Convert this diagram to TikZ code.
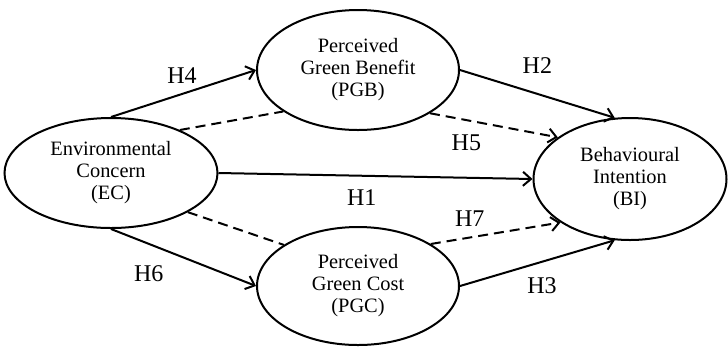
\documentclass[tikz,border=0pt]{standalone}
\usepackage{fontspec}
\setmainfont{Liberation Serif}
\usetikzlibrary{shapes.geometric,arrows.meta}

\begin{document}
\begin{tikzpicture}[x=0.5pt, y=-0.5pt, line width=1pt,
        construct/.style = {draw, ellipse, inner sep=0pt, align=center,
            font=\fontsize{10.2}{11}\selectfont},
        path/.style = {-{Straight Barb[length=4pt,width=7pt]}},
        link/.style = {dash pattern=on 5pt off 3pt},
        lbl/.style = {inner sep=1pt, font=\fontsize{12}{14}\selectfont}]
        \useasboundingbox (0,0) rectangle (728,350);

        \node[construct, minimum width=106.5pt, minimum height=55pt] (EC) at (111,173) {Environmental\\Concern\\(EC)};
        \node[construct, minimum width=101pt, minimum height=60pt] (PGB) at (358,70) {Perceived\\Green Benefit\\(PGB)};
        \node[construct, minimum width=101pt, minimum height=59pt] (PGC) at (358,286) {Perceived\\Green Cost\\(PGC)};
        \node[construct, minimum width=96.5pt, minimum height=61pt] (BI) at (630,179) {Behavioural\\Intention\\(BI)};

        \draw[path] (EC.north) -- (PGB.west) node [lbl, pos=0.49, above=3.8pt] {H4};
        \draw[path] (EC.east) -- (BI.west) node [lbl, pos=0.456, below=5.6pt] {H1};
        \draw[path] (EC.south) -- (PGC.west) node [lbl, pos=0.26, below=9.5pt] {H6};
        \draw[path] (PGB.east) -- (BI.104) node [lbl, midway, above=8.5pt] {H2};
        \draw[path] (PGC.east) -- (BI.256) node [lbl, pos=0.53, below=6.5pt] {H3};
        \draw[path, link] (PGB.-31) -- (BI.150) node [lbl, pos=0.285, below=6pt] {H5};
        \draw[path, link] (PGC.30) -- (BI.212) node [lbl, pos=0.3, above=4pt] {H7};
        \draw[link] (EC.32) -- (PGB.209);
        \draw[link] (EC.-27) -- (PGC.151);

    \end{tikzpicture}
\end{document}
